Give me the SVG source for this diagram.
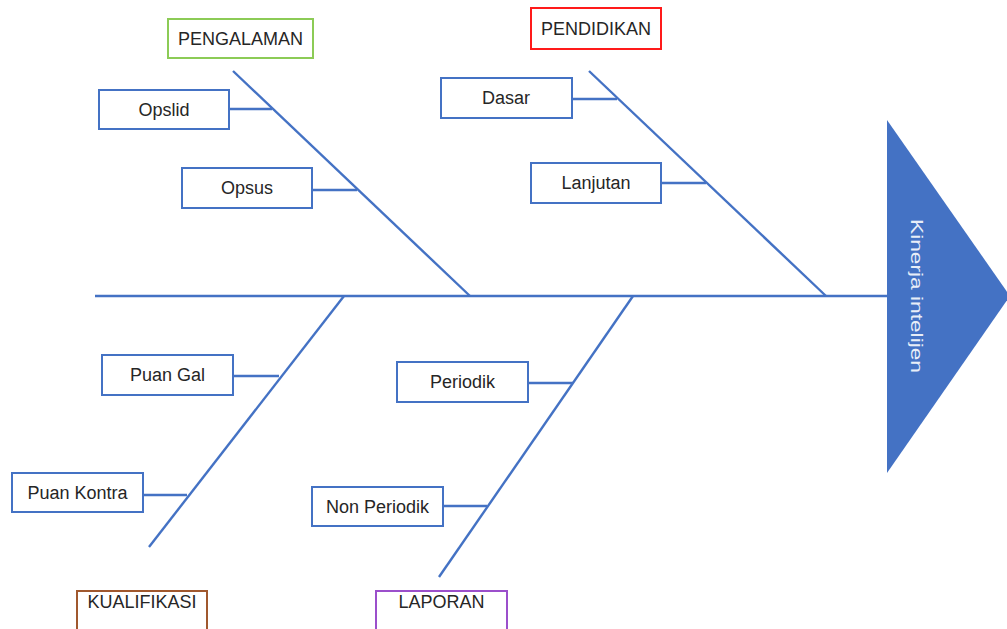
<svg xmlns="http://www.w3.org/2000/svg" width="1007" height="629" viewBox="0 0 1007 629">
<style>
.ln{stroke:#4472C4;stroke-width:2.4;fill:none;stroke-linecap:butt}
.box{fill:#fff;stroke:#4472C4;stroke-width:2}
.cat{fill:#fff;stroke-width:2}
.t{font-family:"Liberation Sans",Arial,sans-serif;font-size:18px;fill:#262626;text-anchor:middle}
</style>
<rect width="1007" height="629" fill="#fff"/>
<g id="connectors">
<line class="ln" x1="95" y1="296" x2="888" y2="296"/>
<line class="ln" x1="233" y1="71" x2="470" y2="296"/>
<line class="ln" x1="589" y1="71" x2="826" y2="296"/>
<line class="ln" x1="344" y1="296" x2="149" y2="547"/>
<line class="ln" x1="633" y1="296" x2="439" y2="577"/>
<line class="ln" x1="229" y1="109" x2="272" y2="109"/>
<line class="ln" x1="312" y1="190" x2="357" y2="190"/>
<line class="ln" x1="572" y1="99" x2="617" y2="99"/>
<line class="ln" x1="661" y1="183" x2="706" y2="183"/>
<line class="ln" x1="233" y1="376" x2="279" y2="376"/>
<line class="ln" x1="143" y1="495" x2="187" y2="495"/>
<line class="ln" x1="528" y1="383" x2="573" y2="383"/>
<line class="ln" x1="443" y1="506" x2="487" y2="506"/>
</g>
<g id="effect">
<polygon points="887,120 1010,296 887,473" fill="#4472C4"/>
<text x="0" y="0" transform="translate(911,296) rotate(90)" font-family="Liberation Sans, Arial, sans-serif" font-size="16" fill="#E8EEF8" text-anchor="middle" textLength="154" lengthAdjust="spacingAndGlyphs">Kinerja intelijen</text>
</g>
<g id="pengalaman"><rect class="cat" x="168" y="19" width="145" height="39" stroke="#8CCB56"/><text class="t" x="240.5" y="45">PENGALAMAN</text></g>
<g id="pendidikan"><rect class="cat" x="531" y="8" width="130" height="41" stroke="#FF1A1A"/><text class="t" x="596" y="35">PENDIDIKAN</text></g>
<g id="kualifikasi"><rect class="cat" x="77" y="591" width="130" height="42" stroke="#A0582E"/><text class="t" x="142" y="608">KUALIFIKASI</text></g>
<g id="laporan"><rect class="cat" x="376" y="591" width="131" height="42" stroke="#9B4FCB"/><text class="t" x="441.5" y="608">LAPORAN</text></g>
<g id="opslid"><rect class="box" x="99" y="90" width="130" height="39"/><text class="t" x="164" y="116">Opslid</text></g>
<g id="opsus"><rect class="box" x="182" y="168" width="130" height="40"/><text class="t" x="247" y="194">Opsus</text></g>
<g id="dasar"><rect class="box" x="441" y="78" width="131" height="40"/><text class="t" x="506" y="104">Dasar</text></g>
<g id="lanjutan"><rect class="box" x="531" y="163" width="130" height="40"/><text class="t" x="596" y="189">Lanjutan</text></g>
<g id="puangal"><rect class="box" x="102" y="355" width="131" height="40"/><text class="t" x="167.5" y="381">Puan Gal</text></g>
<g id="puankontra"><rect class="box" x="12" y="473" width="131" height="39"/><text class="t" x="77.5" y="499">Puan Kontra</text></g>
<g id="periodik"><rect class="box" x="397" y="362" width="131" height="40"/><text class="t" x="462.5" y="388">Periodik</text></g>
<g id="nonperiodik"><rect class="box" x="312" y="487" width="131" height="39"/><text class="t" x="377.5" y="513">Non Periodik</text></g>
</svg>
